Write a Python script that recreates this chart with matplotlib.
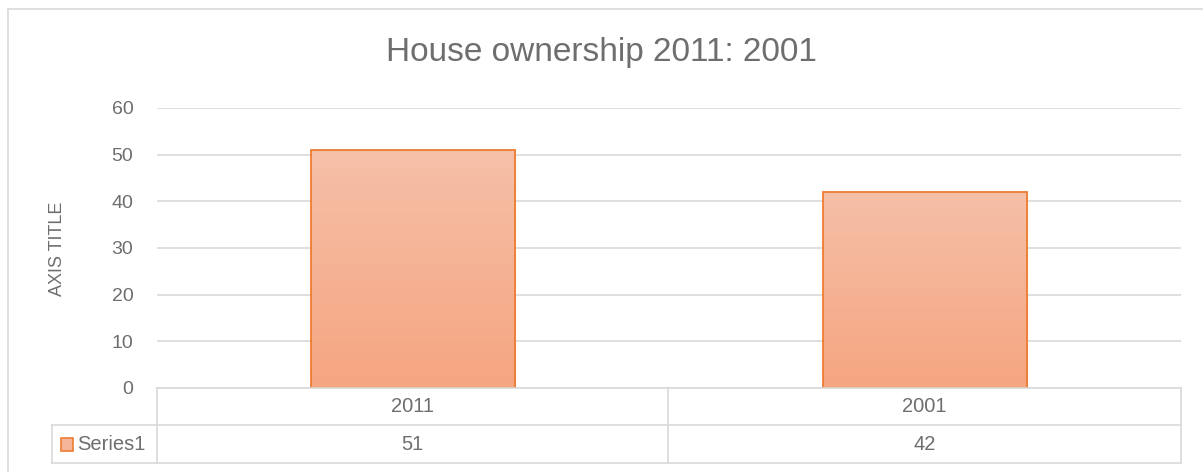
import numpy as np
import matplotlib.pyplot as plt
from matplotlib.lines import Line2D

# data
categories = ['2011', '2001']
series_name = 'Series1'
values = [51, 42]
title = 'House ownership 2011: 2001'
y_label = 'AXIS TITLE'
y_ticks = [0, 10, 20, 30, 40, 50, 60]

W, H = 1203, 472
plt.rcParams['font.family'] = ['Liberation Sans', 'DejaVu Sans']

text_col = '#6E6E6E'
grid_col = '#D9D9D9'
edge_col = '#ED7D31'


def fx(x):
    return x / W


def fy(y):
    return 1 - y / H


fig = plt.figure(figsize=(W / 100, H / 100), dpi=100)

# outer chart border (top & left visible)
fig.add_artist(Line2D([fx(8), fx(8)], [fy(9), 0], transform=fig.transFigure, color=grid_col, lw=1.2))
fig.add_artist(Line2D([fx(8), 1], [fy(9), fy(9)], transform=fig.transFigure, color=grid_col, lw=1.2))

# plot area
left, right, top, bottom = 157, 1181, 108, 388
ax = fig.add_axes([fx(left), fy(bottom), fx(right - left), (bottom - top) / H])
for s in ax.spines.values():
    s.set_visible(False)
ax.set_yticks(y_ticks)
ax.yaxis.grid(True, color=grid_col, lw=1.2)
ax.set_axisbelow(True)
ax.tick_params(axis='y', length=0, labelsize=14, labelcolor=text_col, pad=17)
ax.set_xticks([])

# gradient bars
grad = np.linspace(0, 1, 256).reshape(-1, 1)
top_c = np.array([246, 192, 168]) / 255
bot_c = np.array([245, 165, 128]) / 255
img = bot_c * (1 - grad[..., None]) + top_c * grad[..., None]
x = np.arange(len(categories))
bars = ax.bar(x, values, width=0.4, facecolor='none', edgecolor=edge_col, lw=1.3, zorder=3)
for b in bars:
    bx, by = b.get_x(), b.get_y()
    im = ax.imshow(img, extent=[bx, bx + b.get_width(), by, by + b.get_height()],
                   origin='lower', aspect='auto', zorder=2)
    im.set_clip_path(b)
ax.set_xlim(-0.5, 1.5)
ax.set_ylim(0, 60)

# title and axis title
fig.text(fx(601), fy(52), title, ha='center', va='center', fontsize=24, color=text_col)
fig.text(fx(58), fy(249), y_label, ha='center', va='center', rotation=90, fontsize=13, color=text_col)

# data table
row1, row2, row3 = 388, 425, 463
mid = 668
tkw = dict(transform=fig.transFigure, color=grid_col, lw=1.2)
lines = [
    ([left, right], [row1, row1]),
    ([52, right], [row2, row2]),
    ([52, right], [row3, row3]),
    ([left, left], [row1, row3]),
    ([mid, mid], [row1, row3]),
    ([right, right], [row1, row3]),
    ([52, 52], [row2, row3]),
]
for xs, ys in lines:
    fig.add_artist(Line2D([fx(v) for v in xs], [fy(v) for v in ys], **tkw))

centers = [(left + mid) / 2, (mid + right) / 2]
for c, cat, v in zip(centers, categories, values):
    fig.text(fx(c), fy((row1 + row2) / 2), cat, ha='center', va='center', fontsize=14.5, color=text_col)
    fig.text(fx(c), fy((row2 + row3) / 2), str(v), ha='center', va='center', fontsize=14.5, color=text_col)

# legend key in table
ky = (row2 + row3) / 2
fig.add_artist(plt.Rectangle((fx(61), fy(ky + 6.5)), 12 / W, 13 / H, transform=fig.transFigure,
                             facecolor='#F5B59A', edgecolor=edge_col, lw=1.2))
fig.text(fx(77), fy(ky), series_name, ha='left', va='center', fontsize=14.5, color=text_col)

fig.savefig('out.png', dpi=100)
